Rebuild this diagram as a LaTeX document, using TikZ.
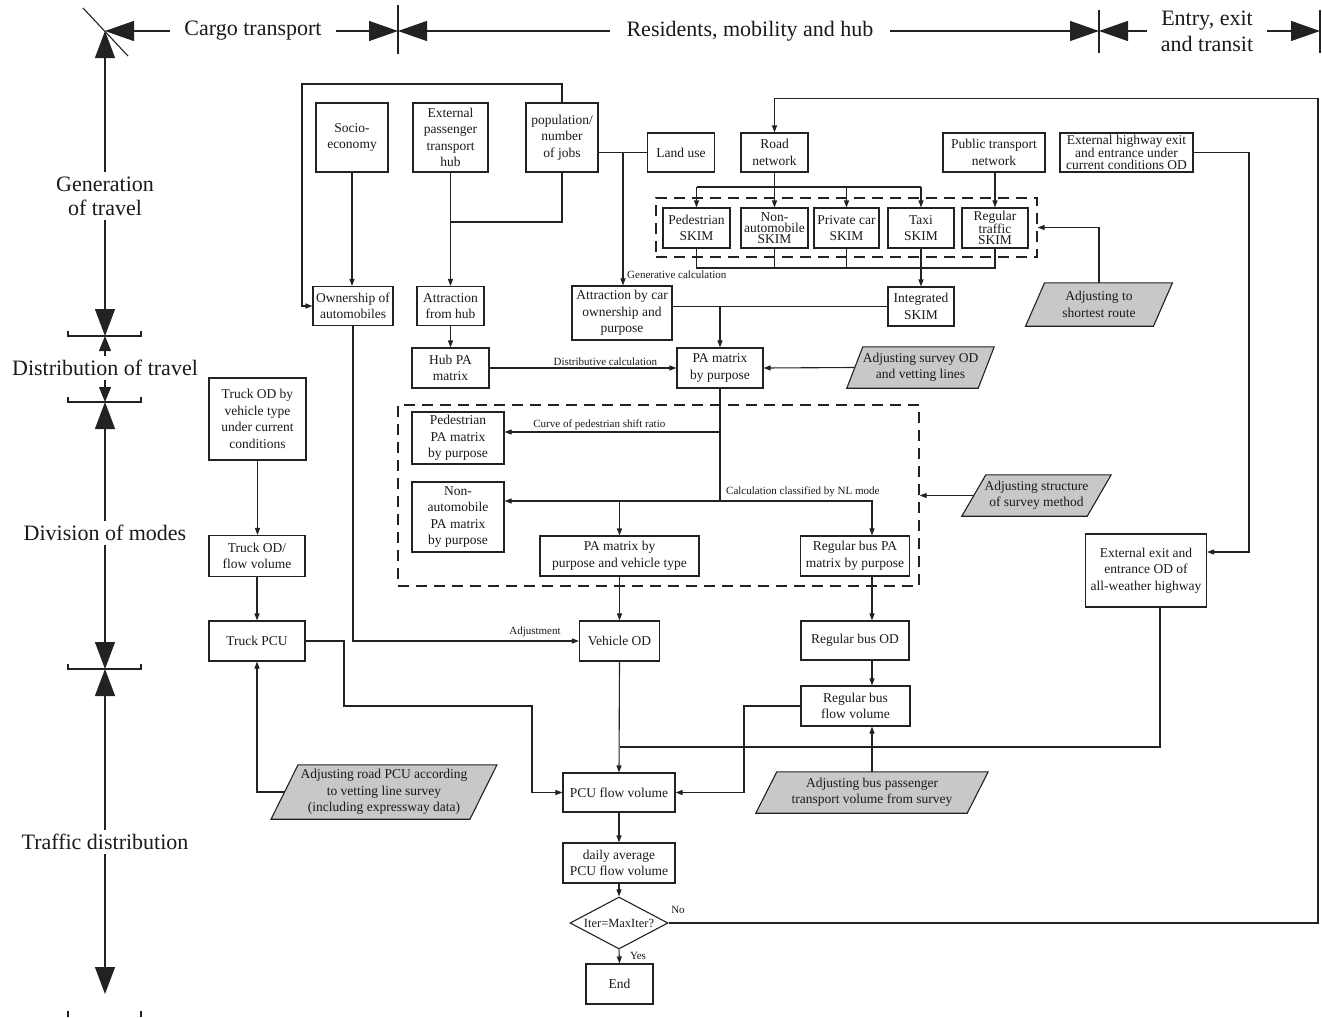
\documentclass[tikz,border=0pt]{standalone}
\usepackage{fontspec}
\setmainfont{Liberation Serif}
\usetikzlibrary{arrows.meta,shapes.geometric,backgrounds}
\definecolor{lc}{HTML}{222222}
\definecolor{pf}{HTML}{C8C8C8}
\definecolor{txt}{HTML}{1A1A1A}
\newcommand\bxf{\fontsize{13.5}{16.5}\selectfont}
\newcommand\skf{\fontsize{13.5}{11}\selectfont}
\newcommand\lbf{\fontsize{11}{13}\selectfont}
\newcommand\hdf{\fontsize{22}{26}\selectfont}
\newcommand\axf{\fontsize{22}{24}\selectfont}
\newcommand\drawpara[2]{\filldraw[parashape] ([xshift=-#2pt]#1.south west) -- ([xshift=-#2pt]#1.south east) -- ([xshift=#2pt]#1.north east) -- ([xshift=#2pt]#1.north west) -- cycle;}
\begin{document}
\begin{tikzpicture}[x=1pt,y=-1pt,
  box/.style={draw=lc, line width=1.1pt, align=center, font=\bxf, inner sep=1pt, text=txt},
  skbox/.style={box, font=\skf},
  conn/.style={draw=lc, line width=1.1pt, -{Triangle[length=7pt,width=5pt]}},
  link/.style={draw=lc, line width=1.1pt},
  grp/.style={draw=lc, line width=1.3pt, dash pattern=on 11pt off 7pt, inner sep=0pt},
  ptext/.style={align=center, font=\bxf, inner sep=0pt, text=txt},
  parashape/.style={draw=lc, fill=pf, line width=1.1pt},
  lbl/.style={font=\lbf, inner sep=1pt, text=txt},
  hdr/.style={font=\hdf, align=center, inner xsep=14pt, inner ysep=2pt, text=txt},
  axl/.style={font=\axf, align=center, inner xsep=2pt, inner ysep=4pt, text=txt},
  hbig/.style={draw=lc, line width=1.2pt, -{Triangle[length=29pt,width=20pt]}},
  abig/.style={draw=lc, line width=1.2pt, -{Triangle[length=27pt,width=20pt]}},
  asmall/.style={draw=lc, line width=1.2pt, -{Triangle[length=15pt,width=12pt]}},
]
\useasboundingbox (0,0) rectangle (1322,1017);

% ---------- header ----------
\coordinate (xc) at (105,31);
\coordinate (s1) at (398,31);
\coordinate (s2) at (1099,31);
\coordinate (s3) at (1320,31);
\draw[link] (83,8) -- (128,56);
\draw[link] (398,5) -- (398,54);
\draw[link] (1099,10) -- (1099,53);
\draw[link] (1320,10) -- (1320,53);
\node[hdr] (cargo) at (253,31) {Cargo transport};
\node[hdr, inner xsep=16pt] (resid) at (750,31) {Residents, mobility and hub};
\node[hdr] (entry) at (1207,31) {Entry, exit\\and transit};
\draw[hbig] (cargo.west) -- (xc);
\draw[hbig] (cargo.east) -- (s1);
\draw[hbig] (resid.west) -- (s1);
\draw[hbig] (resid.east) -- (s2);
\draw[hbig] (entry.west) -- (s2);
\draw[hbig] (entry.east) -- (s3);

% ---------- left axis ----------
\node[axl] (gen) at (105,196) {Generation\\of travel};
\node[axl] (dist) at (105,368) {Distribution of travel};
\node[axl] (mode) at (105,533) {Division of modes};
\node[axl] (traf) at (105,842) {Traffic distribution};
\coordinate (b1) at (105,336);
\coordinate (b2) at (105,402);
\coordinate (b3) at (105,669);
\coordinate (b4) at (105,994);
\draw[abig] (gen.north) -- (xc);
\draw[abig] (gen.south) -- (b1);
\draw[asmall] (dist.north) -- (b1);
\draw[asmall] (dist.south) -- (b2);
\draw[abig] (mode.north) -- (b2);
\draw[abig] (mode.south) -- (b3);
\draw[abig] (traf.north) -- (b3);
\draw[abig] (traf.south) -- (b4);
\draw[link] (68,331) -- (68,336) -- (141,336) -- (141,331);
\draw[link] (68,397) -- (68,402) -- (141,402) -- (141,397);
\draw[link] (68,664) -- (68,669) -- (141,669) -- (141,664);
\draw[link] (68,1011) -- (68,1017);
\draw[link] (141,1011) -- (141,1017);

% ---------- nodes ----------
\node[box, minimum width=72pt, minimum height=69pt] (socio) at (352,137.5) {Socio-\\economy};
\node[box, minimum width=75pt, minimum height=69pt] (exthub) at (450.5,137.5) {External\\passenger\\transport\\hub};
\node[box, minimum width=72pt, minimum height=69pt] (pop) at (562,137.5) {population/\\number\\of jobs};
\node[box, minimum width=67pt, minimum height=39pt] (land) at (681,152.5) {Land use};
\node[box, minimum width=67pt, minimum height=39pt] (road) at (774.5,152.5) {Road\\network};
\node[box, minimum width=102pt, minimum height=39pt] (ptn) at (994,152.5) {Public transport\\network};
\node[box, font=\fontsize{13.5}{12}\selectfont, minimum width=133pt, minimum height=39pt] (exthw) at (1126.5,152.5) {External highway exit\\and entrance under\\current conditions OD};

\node[box, minimum width=67pt, minimum height=40pt] (ped) at (696.5,228) {Pedestrian\\SKIM};
\node[skbox, minimum width=67pt, minimum height=40pt] (nonauto) at (774.5,228) {Non-\\automobile\\SKIM};
\node[box, minimum width=65pt, minimum height=40pt] (priv) at (846.5,228) {Private car\\SKIM};
\node[box, minimum width=66pt, minimum height=40pt] (taxi) at (921,228) {Taxi\\SKIM};
\node[skbox, minimum width=66pt, minimum height=40pt] (reg) at (995,228) {Regular\\traffic\\SKIM};
\node[grp, minimum width=381pt, minimum height=59pt] (skimgrp) at (846.5,227.5) {};

\node[box, minimum width=80pt, minimum height=39pt] (own) at (353,306) {Ownership of\\automobiles};
\node[box, minimum width=67pt, minimum height=39pt] (attrhub) at (450.5,306) {Attraction\\from hub};
\node[box, minimum width=100pt, minimum height=54pt] (attrcar) at (622,313) {Attraction by car\\ownership and\\purpose};
\node[box, minimum width=66pt, minimum height=39pt] (intskim) at (921,306.5) {Integrated\\SKIM};
\node[box, minimum width=77pt, minimum height=40pt] (hubpa) at (450.5,368) {Hub PA\\matrix};
\node[box, minimum width=86pt, minimum height=40pt] (pamat) at (720,368) {PA matrix\\by purpose};
\node[box, minimum width=97pt, minimum height=82pt] (truckod) at (257.5,419) {Truck OD by\\vehicle type\\under current\\conditions};

\node[grp, minimum width=521pt, minimum height=181pt] (modegrp) at (658.5,495.5) {};
\node[box, minimum width=92pt, minimum height=52pt] (pedpa) at (458,438) {Pedestrian\\PA matrix\\by purpose};
\node[box, minimum width=92pt, minimum height=70pt] (nonpa) at (458,517) {Non-\\automobile\\PA matrix\\by purpose};
\node[box, minimum width=159pt, minimum height=40pt] (pavt) at (619.5,556) {PA matrix by\\purpose and vehicle type};
\node[box, minimum width=109pt, minimum height=40pt] (rbpa) at (855,556) {Regular bus PA\\matrix by purpose};
\node[box, minimum width=96pt, minimum height=41pt] (truckflow) at (257,556) {Truck OD/\\flow volume};
\node[box, minimum width=121pt, minimum height=73pt] (extall) at (1146,570.5) {External exit and\\entrance OD of\\all-weather highway};

\node[box, minimum width=96pt, minimum height=40pt] (truckpcu) at (257,641) {Truck PCU};
\node[box, minimum width=80pt, minimum height=40pt] (vehod) at (619.5,641) {Vehicle OD};
\node[box, minimum width=108pt, minimum height=39pt] (rbod) at (855,640.5) {Regular bus OD};
\node[box, minimum width=109pt, minimum height=40pt] (rbflow) at (855.5,706) {Regular bus\\flow volume};
\node[box, minimum width=112pt, minimum height=39pt] (pcuflow) at (619,792.5) {PCU flow volume};
\node[box, minimum width=112pt, minimum height=40pt] (daily) at (619,863) {daily average\\PCU flow volume};
\node[box, diamond, aspect=1.9, inner sep=0pt, minimum width=98pt, minimum height=52pt, font=\fontsize{12.5}{14}\selectfont] (dec) at (619,923) {Iter=MaxIter?};
\node[box, minimum width=67pt, minimum height=40pt] (endn) at (619.5,984) {End};

% parallelogram texts
\node[ptext, minimum width=127.5pt, minimum height=43pt] (shortest) at (1099,304.5) {Adjusting to\\shortest route};
\node[ptext, minimum width=131pt, minimum height=41pt] (survey) at (920.5,367.5) {Adjusting survey OD\\and vetting lines};
\node[ptext, minimum width=125pt, minimum height=41pt] (struct) at (1036.5,495.5) {Adjusting structure\\of survey method};
\node[ptext, minimum width=198.5pt, minimum height=54pt] (roadpcu) at (384,792) {Adjusting road PCU according\\to vetting line survey\\(including expressway data)};
\node[ptext, minimum width=211pt, minimum height=41pt] (bus) at (872,792.5) {Adjusting bus passenger\\transport volume from survey};

% ---------- connectors ----------
\coordinate (lt) at (302,84);
\draw[conn] (pop.north) |- (lt) |- (own.west);
\draw[conn] (socio.south) -- (socio.south |- own.north);
\draw[conn] (exthub.south) -- (attrhub.north);
\coordinate (pj) at (450.5,222);
\draw[link] (pop.south) |- (pj);
\coordinate (lj) at (623,152.5);
\draw[link] (pop.east |- land.west) -- (land.west);
\draw[conn] (lj) -- (lj |- attrcar.north);
\node[lbl, anchor=west] at (626,275) {Generative calculation};

\coordinate (top) at (1318,98.5);
\draw[conn] (dec.east) -| (top) -| (road.north);
\node[lbl] at (678,910) {No};

\coordinate (rj) at (774.5,187);
\draw[link] (ped.north |- rj) -- (taxi.north |- rj);
\draw[conn] (road.south) -- (nonauto.north);
\draw[conn] (ped.north |- rj) -- (ped.north);
\draw[conn] (priv.north |- rj) -- (priv.north);
\draw[conn] (taxi.north |- rj) -- (taxi.north);
\draw[conn] (reg.north |- ptn.south) -- (reg.north);

\coordinate (sj) at (921,268);
\draw[link] (ped.south) -- (ped.south |- sj) -- (reg.south |- sj) -- (reg.south);
\draw[link] (nonauto.south) -- (nonauto.south |- sj);
\draw[link] (priv.south) -- (priv.south |- sj);
\draw[conn] (taxi.south) -- (intskim.north);
\draw[conn] (shortest.north) |- (skimgrp.east);

\draw[link] (attrcar.east |- intskim.west) -- (intskim.west);
\draw[conn] (pamat.north |- intskim.west) -- (pamat.north);
\draw[conn] (attrhub.south) -- (hubpa.north);
\draw[conn] (hubpa.east) -- node[lbl, above=1pt, pos=0.62] {Distributive calculation} (pamat.west);
\draw[conn] (survey.west) -- (pamat.east);

\coordinate (mj1) at (720,432);
\coordinate (mj2) at (720,501);
\coordinate (bc) at (872,501);
\draw[link] (pamat.south) -- (mj2);
\draw[conn] (mj1) -- node[lbl, above=1pt, pos=0.56] {Curve of pedestrian shift ratio} (mj1 -| pedpa.east);
\draw[conn] (mj2) -- (mj2 -| nonpa.east);
\draw[conn] (mj2 -| pavt.north) -- (pavt.north);
\draw[conn] (mj2) -- (bc) -- (bc |- rbpa.north);
\node[lbl, anchor=west] at (725,492) {Calculation classified by NL mode};
\draw[conn] (struct.west) -- (modegrp.east);

\draw[conn] (pavt.south) -- (vehod.north);
\draw[conn] (bc |- rbpa.south) -- (bc |- rbod.north);
\draw[conn] (bc |- rbod.south) -- (bc |- rbflow.north);
\draw[conn] (bus.north) -- (bus.north |- rbflow.south);
\coordinate (rbl) at (744,706);
\draw[conn] (rbflow.west) -- (rbl) |- (pcuflow.east);
\coordinate (ej) at (1160,747);
\draw[link] (extall.south -| ej) -- (ej) -- (ej -| vehod.south);
\draw[conn] (vehod.south) -- (pcuflow.north);
\coordinate (hwr) at (1249,552);
\draw[conn] (exthw.east) -| (hwr) -- (hwr -| extall.east);

\draw[conn] (truckod.south) -- (truckod.south |- truckflow.north);
\draw[conn] (truckflow.south) -- (truckpcu.north);
\coordinate (tp1) at (344,706);
\coordinate (tp2) at (532,706);
\draw[conn] (truckpcu.east) -| (tp1) -- (tp2) |- (pcuflow.west);
\draw[conn] (roadpcu.west) -| (truckpcu.south);
\draw[conn] (own.south) |- (vehod.west);
\node[lbl] at (535,632) {Adjustment};

\draw[conn] (pcuflow.south) -- (daily.north);
\draw[conn] (daily.south) -- (dec.north);
\draw[conn] (dec.south) -- (endn.north);
\node[lbl] at (638,956) {Yes};

% ---------- background ----------
\begin{pgfonlayer}{background}
\fill[white] (0,0) rectangle (1322,1017);
\drawpara{shortest}{9.5}
\drawpara{survey}{8}
\drawpara{struct}{12}
\drawpara{roadpcu}{13.5}
\drawpara{bus}{10.5}
\end{pgfonlayer}
\end{tikzpicture}
\end{document}
